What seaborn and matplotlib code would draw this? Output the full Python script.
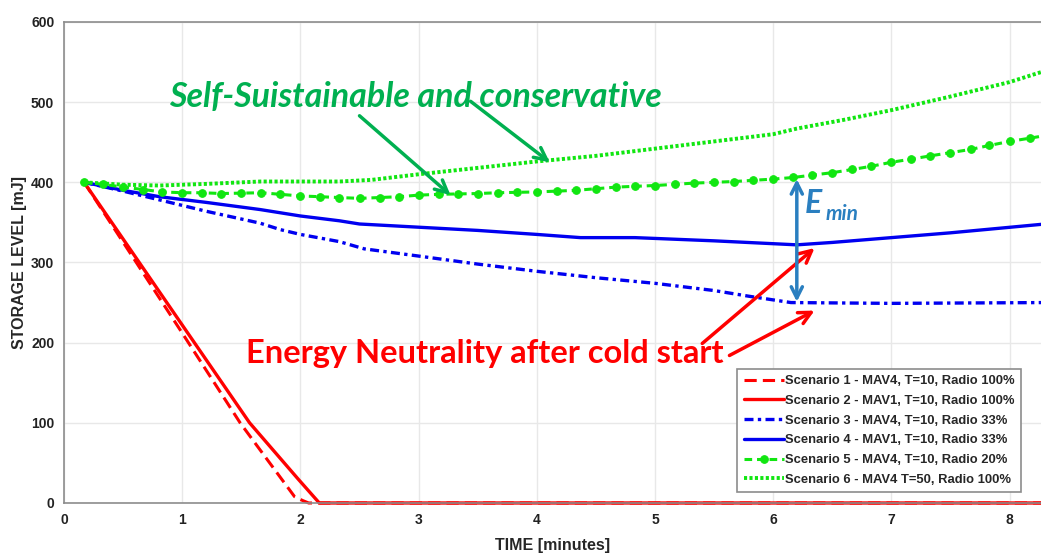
import numpy as np
import matplotlib
matplotlib.use("Agg")
import matplotlib.pyplot as plt
import seaborn as sns

# Storage level data (time in minutes, level in mJ)

# Scenario 1 - MAV4, T=10, Radio 100% (dashed red)
t1 = [0.17, 1.0, 1.49, 1.95, 2.02, 2.07, 8.3]
e1 = [400, 212, 100, 8, 3, 0, 0]

# Scenario 2 - MAV1, T=10, Radio 100% (solid red)
t2 = [0.17, 1.0, 1.57, 1.98, 2.16, 8.3]
e2 = [400, 222, 100, 30, 0, 0]

# Scenario 3 - MAV4, T=10, Radio 33% (dash-dot blue)
t3 = [0.17, 0.5, 0.81, 1.2, 1.66, 1.83, 2.0, 2.33, 2.54, 3.0, 3.5, 4.0,
      4.5, 5.0, 5.5, 5.79, 6.15, 7.0, 8.3]
e3 = [400, 389, 378, 364, 349, 341, 335, 326, 317, 308, 298, 289,
      281, 274, 265, 258, 250, 249, 250]

# Scenario 4 - MAV1, T=10, Radio 33% (solid blue)
t4 = [0.17, 0.5, 0.81, 1.2, 1.66, 2.0, 2.33, 2.5, 3.0, 3.5, 4.0, 4.37,
      4.83, 5.0, 5.5, 6.2, 6.5, 7.0, 7.5, 8.3]
e4 = [400, 390, 382, 375, 366, 358, 352, 348, 344, 340, 335, 331,
      331, 330, 327, 322, 325, 331, 337, 348]

# Scenario 5 - MAV4, T=10, Radio 20% (green dashes with markers, one sample every 10 s)
t5 = [0.17, 0.33, 0.5, 0.67, 0.83, 1.0, 1.17, 1.33, 1.5, 1.67,
      1.83, 2.0, 2.17, 2.33, 2.5, 2.67, 2.83, 3.0, 3.17, 3.33,
      3.5, 3.67, 3.83, 4.0, 4.17, 4.33, 4.5, 4.67, 4.83, 5.0,
      5.17, 5.33, 5.5, 5.67, 5.83, 6.0, 6.17, 6.33, 6.5, 6.67,
      6.83, 7.0, 7.17, 7.33, 7.5, 7.67, 7.83, 8.0, 8.17, 8.33]
e5 = [400, 397.5, 394, 391, 388, 387, 387, 386, 386.5, 387,
      385, 383, 382, 381, 380, 381, 382, 384, 385, 385.5,
      386, 387, 387.5, 388, 389, 390, 392, 394, 395, 396,
      397.5, 399, 400, 401, 402.5, 404, 406, 409, 412, 416,
      420, 425, 429, 433, 437, 441, 446, 451, 455, 459]

# Scenario 6 - MAV4 T=50, Radio 100% (dotted green)
t6 = [0.17, 0.5, 0.81, 1.2, 1.66, 2.0, 2.33, 2.6, 3.0, 3.5, 4.0, 4.5,
      5.0, 5.5, 6.0, 6.2, 6.6, 7.0, 7.5, 8.0, 8.3]
e6 = [400, 397, 396, 398, 401, 401, 401, 403, 410, 418, 426, 433,
      442, 451, 460, 467, 478, 490, 507, 525, 539]

labels = ['Scenario 1 - MAV4, T=10, Radio 100%',
          'Scenario 2 - MAV1, T=10, Radio 100%',
          'Scenario 3 - MAV4, T=10, Radio 33%',
          'Scenario 4 - MAV1, T=10, Radio 33%',
          'Scenario 5 - MAV4, T=10, Radio 20%',
          'Scenario 6 - MAV4 T=50, Radio 100%']

red = '#ff0000'
blue = '#0000f0'
green = '#11e611'

sns.set_theme(style='whitegrid')
plt.rcParams['font.family'] = ['Liberation Sans', 'DejaVu Sans']

fig = plt.figure(figsize=(10.41, 5.59), dpi=100)
ax = fig.add_axes([0.0615, 0.1002, 0.9385, 0.8605])

sns.lineplot(x=t1, y=e1, ax=ax, color=red, linewidth=2.2,
             linestyle=(0, (4, 2)), label=labels[0], clip_on=False)
sns.lineplot(x=t2, y=e2, ax=ax, color=red, linewidth=2.4,
             linestyle='-', label=labels[1], clip_on=False)
sns.lineplot(x=t3, y=e3, ax=ax, color=blue, linewidth=2.4,
             linestyle=(0, (2.7, 1.3, 1, 1.3)), label=labels[2])
sns.lineplot(x=t4, y=e4, ax=ax, color=blue, linewidth=2.4,
             linestyle='-', label=labels[3])
sns.lineplot(x=t5, y=e5, ax=ax, color=green, linewidth=2.2,
             linestyle=(0, (2.5, 1.6)), marker='o', markersize=5.5,
             markeredgecolor=green, label=labels[4])
sns.lineplot(x=t6, y=e6, ax=ax, color=green, linewidth=2.8,
             linestyle=(0, (0.8, 0.6)), label=labels[5])

ax.set_xlim(0, 8.266)
ax.set_ylim(0, 600)
ax.set_xticks(range(0, 9))
ax.set_yticks(range(0, 601, 100))
ax.grid(True, color='#e8e8e8', linewidth=1)

for side in ['left', 'bottom', 'top']:
    ax.spines[side].set_color('#8c8c8c')
    ax.spines[side].set_linewidth(1.2)
ax.spines['right'].set_visible(False)

ax.tick_params(direction='in', length=5, width=1, color='#8c8c8c',
               labelsize=10, pad=7)
for lab in ax.get_xticklabels() + ax.get_yticklabels():
    lab.set_fontweight('bold')
    lab.set_color('#222222')

ax.set_xlabel('TIME [minutes]', fontsize=11.5, fontweight='bold', labelpad=8)
ax.set_ylabel('STORAGE LEVEL [mJ]', fontsize=11.5, fontweight='bold', labelpad=3)

leg = ax.legend(loc='lower right', bbox_to_anchor=(0.98, 0.022),
                prop={'family': 'Liberation Sans', 'weight': 'bold', 'size': 9.4},
                handlelength=3.1, handletextpad=0.1, labelspacing=0.58,
                borderpad=0.5, fancybox=False, framealpha=1, borderaxespad=0)
leg.get_frame().set_edgecolor('#8c8c8c')
leg.get_frame().set_linewidth(1.2)

# annotations
office_green = '#00b050'
ax.text(2.97, 506, 'Self-Suistainable and conservative', color=office_green,
        fontsize=24.5, fontweight='bold', fontstyle='italic', family=['Lato', 'DejaVu Sans'],
        ha='center', va='center')
ax.annotate('', xy=(3.27, 384), xytext=(2.5, 483),
            arrowprops=dict(arrowstyle='->', color=office_green, lw=2.5,
                            mutation_scale=22, shrinkA=0, shrinkB=0))
ax.annotate('', xy=(4.11, 425), xytext=(3.44, 501),
            arrowprops=dict(arrowstyle='->', color=office_green, lw=2.5,
                            mutation_scale=22, shrinkA=0, shrinkB=0))

ax.text(3.56, 186, 'Energy Neutrality after cold start', color=red,
        fontsize=23.5, fontweight='bold', family=['Lato', 'DejaVu Sans'],
        ha='center', va='center')
ax.annotate('', xy=(6.35, 318), xytext=(5.4, 199),
            arrowprops=dict(arrowstyle='->', color=red, lw=2.5,
                            mutation_scale=22, shrinkA=0, shrinkB=0))
ax.annotate('', xy=(6.35, 240), xytext=(5.63, 184),
            arrowprops=dict(arrowstyle='->', color=red, lw=2.5,
                            mutation_scale=22, shrinkA=0, shrinkB=0))

emin_blue = '#2a7fc0'
ax.annotate('', xy=(6.2, 404), xytext=(6.2, 251),
            arrowprops=dict(arrowstyle='<->', color=emin_blue, lw=2.5,
                            mutation_scale=20, shrinkA=0, shrinkB=0))
ax.text(6.27, 373, 'E', color=emin_blue, fontsize=23, fontweight='bold',
        fontstyle='italic', family=['Lato', 'DejaVu Sans'], ha='left', va='center')
ax.text(6.44, 361, 'min', color=emin_blue, fontsize=15, fontweight='bold',
        fontstyle='italic', family=['Lato', 'DejaVu Sans'], ha='left', va='center')

fig.savefig('out.png', dpi=100)
